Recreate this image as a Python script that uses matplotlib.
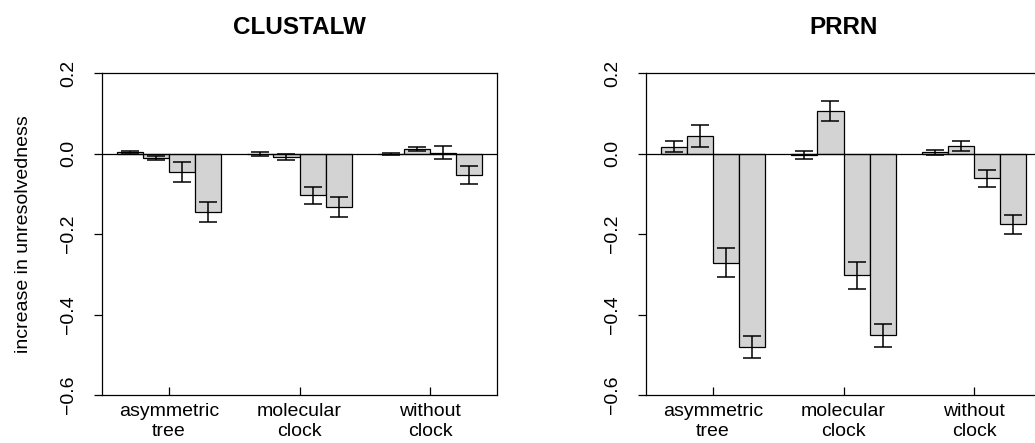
import numpy as np
import matplotlib.pyplot as plt

plt.rcParams['font.family'] = ['Liberation Sans', 'DejaVu Sans']

groups = ["asymmetric\ntree", "molecular\nclock", "without\nclock"]

clustalw_means = [
    [0.003, -0.010, -0.046, -0.145],
    [-0.002, -0.008, -0.104, -0.134],
    [-0.001, 0.011, 0.002, -0.053],
]
clustalw_err = [
    [0.003, 0.005, 0.025, 0.024],
    [0.005, 0.007, 0.022, 0.025],
    [0.003, 0.005, 0.016, 0.023],
]

prrn_means = [
    [0.017, 0.043, -0.272, -0.481],
    [-0.003, 0.105, -0.303, -0.452],
    [0.003, 0.018, -0.062, -0.176],
]
prrn_err = [
    [0.013, 0.028, 0.036, 0.028],
    [0.010, 0.025, 0.034, 0.028],
    [0.006, 0.013, 0.021, 0.024],
]

fig = plt.figure(figsize=(10.35, 4.43), dpi=100)
W, H = 1035, 443


def panel(left_px, title, means, errs, ylabel=None):
    ax = fig.add_axes([left_px / W, 48 / H, 395 / W, 322 / H])
    means = np.asarray(means)
    errs = np.asarray(errs)
    n_groups, n_bars = means.shape
    for g in range(n_groups):
        lefts = 1 + g * (n_bars + 1) + np.arange(n_bars)
        centers = lefts + 0.5
        ax.bar(centers, means[g], width=1.0, color='#d3d3d3',
               edgecolor='black', linewidth=0.9, zorder=2)
        ax.errorbar(centers, means[g], yerr=errs[g], fmt='none',
                    ecolor='black', elinewidth=1.1, capsize=6.5,
                    capthick=1.1, zorder=3)
    ax.axhline(0, color='black', linewidth=0.9, zorder=4)
    ax.set_xlim(0.44, 15.56)
    ax.set_ylim(-0.6, 0.2)
    ax.set_yticks([-0.6, -0.4, -0.2, 0.0, 0.2])
    ax.set_yticklabels(['\u22120.6', '\u22120.4', '\u22120.2', '0.0', '0.2'],
                       rotation=90, va='center')
    centers_g = [1 + g * (n_bars + 1) + n_bars / 2 for g in range(n_groups)]
    ax.set_xticks(centers_g)
    ax.set_xticklabels(groups, linespacing=1.2)
    ax.tick_params(axis='y', direction='out', length=6, width=0.9,
                   labelsize=14, pad=12)
    ax.tick_params(axis='x', direction='in', length=6, width=0.9,
                   labelsize=14, pad=6)
    for s in ax.spines.values():
        s.set_linewidth(0.9)
    ax.set_title(title, fontsize=17.5, fontweight='bold', pad=28)
    if ylabel:
        ax.set_ylabel(ylabel, fontsize=14, labelpad=20)
    return ax


panel(102, "CLUSTALW", clustalw_means, clustalw_err,
      ylabel="increase in unresolvedness")
panel(646, "PRRN", prrn_means, prrn_err)

fig.savefig("out.png", dpi=100)
